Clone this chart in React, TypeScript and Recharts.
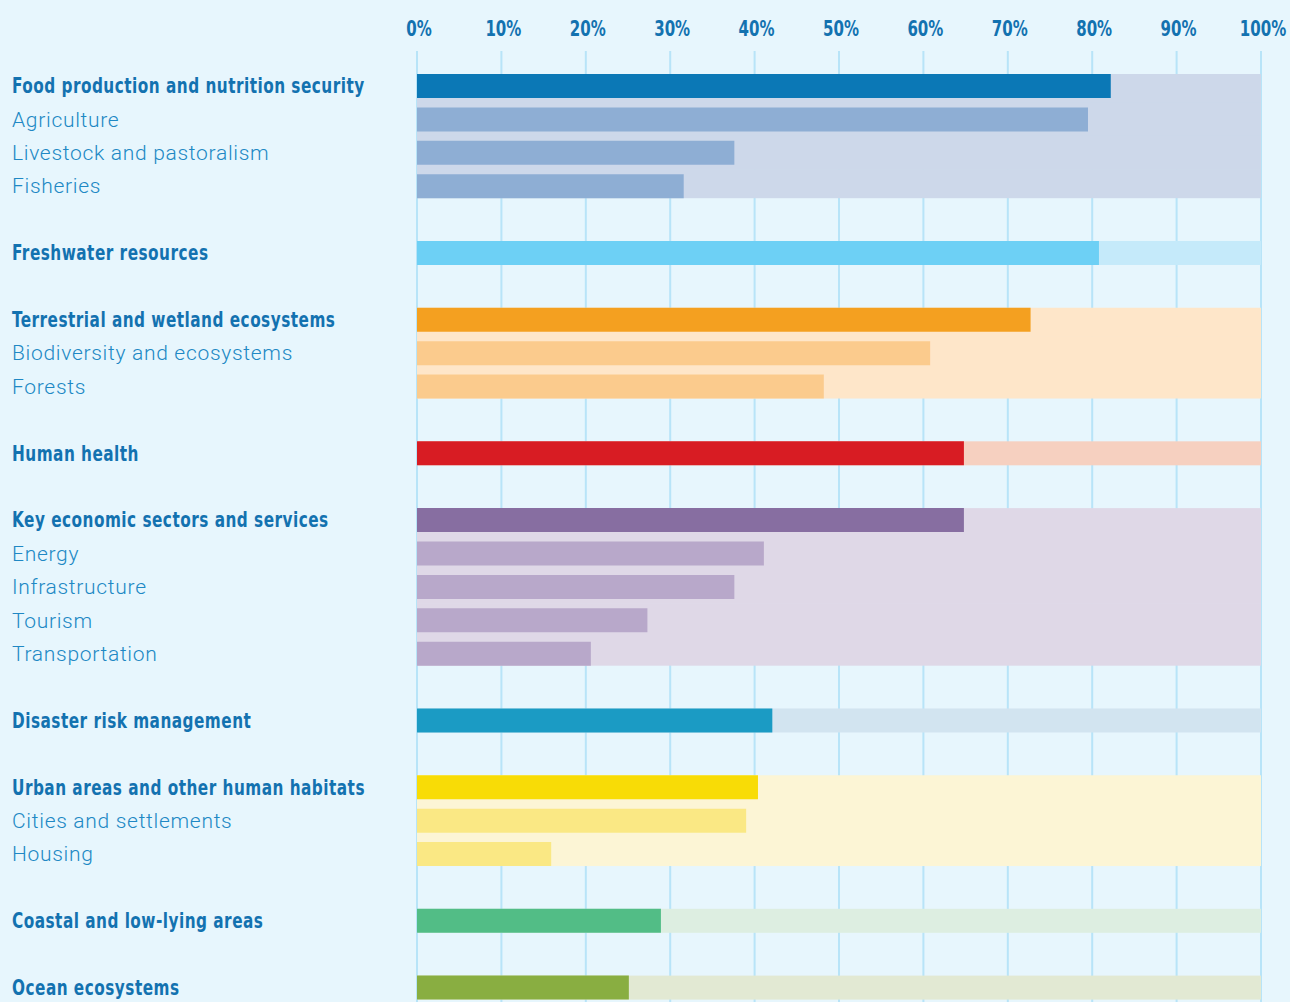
import { BarChart, Bar, XAxis, YAxis, CartesianGrid, Cell } from 'recharts';

const labels = [
  'Food production and nutrition security',
  'Agriculture',
  'Livestock and pastoralism',
  'Fisheries',
  '',
  'Freshwater resources',
  '',
  'Terrestrial and wetland ecosystems',
  'Biodiversity and ecosystems',
  'Forests',
  '',
  'Human health',
  '',
  'Key economic sectors and services',
  'Energy',
  'Infrastructure',
  'Tourism',
  'Transportation',
  '',
  'Disaster risk management',
  '',
  'Urban areas and other human habitats',
  'Cities and settlements',
  'Housing',
  '',
  'Coastal and low-lying areas',
  '',
  'Ocean ecosystems',
];

// share of plans (%) per row, null for spacer rows
const values = [
  82.2, 79.5, 37.6, 31.6, null,
  80.8, null,
  72.7, 60.8, 48.2, null,
  64.8, null,
  64.8, 41.1, 37.6, 27.3, 20.6, null,
  42.1, null,
  40.4, 39.0, 15.9, null,
  28.9, null,
  25.1,
];

// 'main' = sector, 'sub' = sub-sector, 'gap' = spacer
const kinds = [
  'main', 'sub', 'sub', 'sub', 'gap',
  'main', 'gap',
  'main', 'sub', 'sub', 'gap',
  'main', 'gap',
  'main', 'sub', 'sub', 'sub', 'sub', 'gap',
  'main', 'gap',
  'main', 'sub', 'sub', 'gap',
  'main', 'gap',
  'main',
];

const groups = [
  0, 0, 0, 0, -1,
  1, -1,
  2, 2, 2, -1,
  3, -1,
  4, 4, 4, 4, 4, -1,
  5, -1,
  6, 6, 6, -1,
  7, -1,
  8,
];

const mainColors = ['#0b78b6', '#6dd0f5', '#f4a020', '#d81c23', '#876ea1', '#1b9bc4', '#f8dc06', '#52bd86', '#89ae41'];
const subColors = ['#8eaed4', '#6dd0f5', '#fbcb8d', '#d81c23', '#b8a8ca', '#1b9bc4', '#fae884', '#52bd86', '#89ae41'];
const bgColors = ['#cdd8ea', '#c5eafa', '#fee6c9', '#f6d0c0', '#dfd8e7', '#d2e4f0', '#fcf5d5', '#ddeee1', '#e2e9d3'];

const xTicks = [0, 10, 20, 30, 40, 50, 60, 70, 80, 90, 100];

const rows = labels.map((label, i) => ({
  id: `row-${i}`,
  label,
  value: values[i],
  kind: kinds[i],
  group: groups[i],
  joinUp: i > 0 && groups[i - 1] === groups[i] && groups[i] >= 0,
  joinDown: i < labels.length - 1 && groups[i + 1] === groups[i] && groups[i] >= 0,
}));

const BOLD_FONT = '"DejaVu Sans Condensed", "DejaVu Sans", sans-serif';
const LIGHT_FONT = 'Roboto, "Open Sans", sans-serif';
const GAP = 5;

function BarBg(props: any) {
  const { x, y, width, height, payload } = props;
  if (!payload || payload.group < 0) return <g />;
  const top = payload.joinUp ? y - GAP : y;
  const bottom = payload.joinDown ? y + height + GAP : y + height;
  return <rect x={x} y={top} width={width} height={bottom - top} fill={bgColors[payload.group]} />;
}

function RowTick(props: any) {
  const { y, payload } = props;
  const row = rows[payload.index];
  if (!row || row.kind === 'gap') return <g />;
  if (row.kind === 'main') {
    return (
      <text
        transform={`translate(12, ${y}) scale(0.81, 1)`}
        dy="0.36em"
        textAnchor="start"
        fontFamily={BOLD_FONT}
        fontSize={21}
        fontWeight={700}
        fill="#1372b0"
        letterSpacing={0.6}
      >
        {row.label}
      </text>
    );
  }
  return (
    <text
      x={12}
      y={y}
      dy="0.36em"
      textAnchor="start"
      fontFamily={LIGHT_FONT}
      fontSize={21}
      fontWeight={300}
      fill="#2088c4"
      letterSpacing={0.7}
    >
      {row.label}
    </text>
  );
}

function PctTick(props: any) {
  const { x, y, payload } = props;
  return (
    <text
      transform={`translate(${x + 2}, ${y}) scale(0.76, 1)`}
      textAnchor="middle"
      fontFamily={BOLD_FONT}
      fontSize={22}
      fontWeight={700}
      fill="#1372b0"
    >
      {`${payload.value}%`}
    </text>
  );
}

export default function App() {
  return (
    <div style={{ background: '#e7f6fd', width: 1290 }}>
      <style>{'body{background:#e7f6fd;margin:0;overflow:hidden;}'}</style>
      <BarChart
        width={1290}
        height={1004}
        data={rows}
        layout="vertical"
        margin={{ top: 0, right: 29, bottom: 0, left: 0 }}
      >
        <CartesianGrid horizontal={false} stroke="#b8e4f8" strokeWidth={2} />
        <XAxis
          type="number"
          orientation="top"
          domain={[0, 100]}
          ticks={xTicks}
          axisLine={false}
          tickLine={false}
          height={51}
          tickMargin={9}
          tick={<PctTick />}
          interval={0}
        />
        <YAxis
          type="category"
          dataKey="id"
          width={417}
          axisLine={false}
          tickLine={false}
          interval={0}
          padding={{ top: 18, bottom: 0 }}
          tick={<RowTick />}
        />
        <Bar
          dataKey="value"
          barSize={24}
          background={(p: any) => <BarBg {...p} />}
          isAnimationActive={false}
        >
          {rows.map((r, i) => (
            <Cell
              key={`cell-${i}`}
              fill={r.group < 0 ? 'none' : r.kind === 'main' ? mainColors[r.group] : subColors[r.group]}
            />
          ))}
        </Bar>
      </BarChart>
    </div>
  );
}
